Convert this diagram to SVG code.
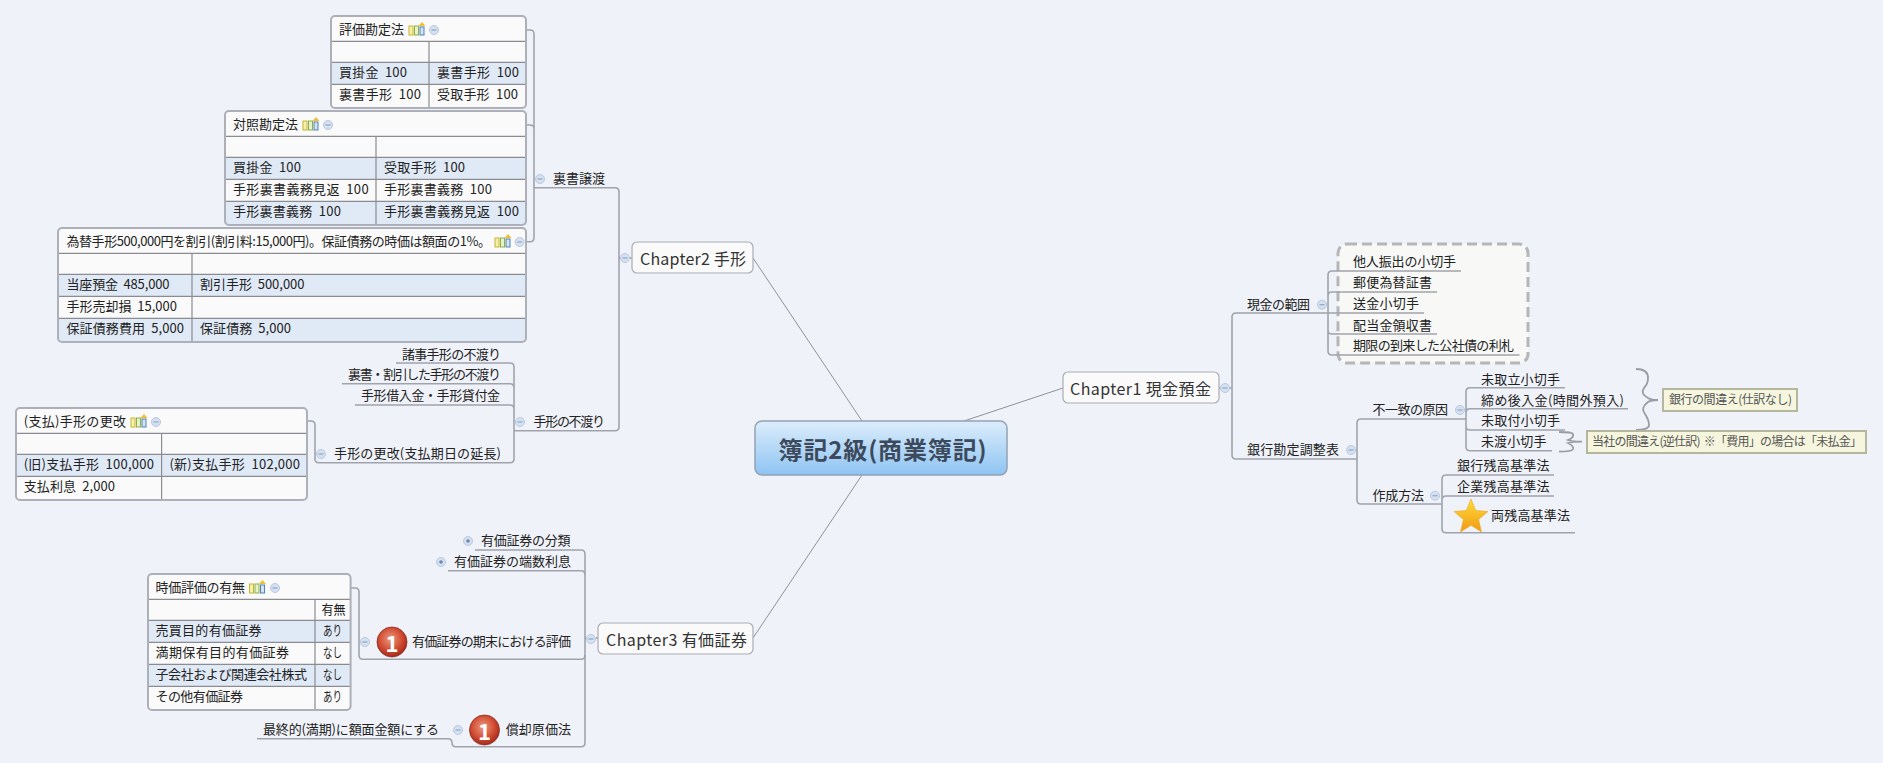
<svg xmlns="http://www.w3.org/2000/svg" width="1883" height="763" viewBox="0 0 1883 763">
<style>
text{font-family:"Noto Sans CJK JP","Noto Sans",sans-serif;font-size:13px;fill:#222;dominant-baseline:central;white-space:pre;transform:translateY(-1.5px)}
.c{font-size:16px;fill:#333}
.n{font-size:12px;fill:#555}
.r{font-size:24px;font-weight:bold;fill:#3d4a5c}
.cn{fill:none;stroke:#a0a3ac;stroke-width:1.6}
.thin{fill:none;stroke:#8f9299;stroke-width:1}
.box{fill:#fafafa;stroke:#a9acb4;stroke-width:1.2}
.tb{fill:#fafafa}
.bl{fill:#e0e9f6}
.ln{stroke:#8a8c92;stroke-width:1.2;fill:none}
.ol{fill:none;stroke:#adb0b8;stroke-width:2}
.call{fill:#f6f6df;stroke:#b4b79e;stroke-width:2}
.bad{stroke:#8d2a1c;stroke-width:.8;fill:url(#red)}
.one{font-size:22px;font-weight:bold;fill:#fff;text-anchor:middle;transform:none}
.tg{fill:#d5e0f0;stroke:#b9c9de;stroke-width:1}
.tm{stroke:#8ea7c6;stroke-width:1.2}
.td{fill:#6d89ad}
.brace{fill:none;stroke:#9a9ca3;stroke-width:1.8}
</style>
<defs>
<linearGradient id="cen" x1="0" y1="0" x2="0" y2="1"><stop offset="0" stop-color="#dcedfb"/><stop offset="1" stop-color="#8ec4f3"/></linearGradient>
<radialGradient id="red" cx=".45" cy=".4" r=".65"><stop offset="0" stop-color="#ee9a80"/><stop offset=".6" stop-color="#cf4a30"/><stop offset="1" stop-color="#9a2418"/></radialGradient>
<linearGradient id="st" x1="0" y1="0" x2="0" y2="1"><stop offset="0" stop-color="#ffdc3c"/><stop offset="1" stop-color="#f29a10"/></linearGradient>
<g id="ic"><rect x="0" y="-5" width="4" height="9" fill="#f6f0b0" stroke="#c6b42c"/><rect x="5.5" y="-5" width="4" height="9" fill="#e6f2c8" stroke="#8eb04a"/><rect x="11" y="-4" width="4" height="8" fill="#d4e4f6" stroke="#4f80b8"/><path d="M13 -9 l3.5 4 h-7z" fill="#f0c030"/></g>
<g id="m"><circle class="tg" r="4.5"/><path class="tm" d="M-2.5 0H2.5"/></g>
<g id="p"><circle class="tg" r="4.5"/><circle class="td" r="1.8"/></g>
</defs>
<rect width="1883" height="763" fill="#f0f2f9"/>
<g id="dash-box"><rect x="1338" y="244" width="190" height="119" rx="9" fill="#f8f9f7" stroke="#b5b6b8" stroke-width="3" stroke-dasharray="10 5"/></g>
<g id="connectors">
<path class="thin" d="M753 258L862 421M753 638L862 475M1063 388L964 421"/>
<path class="cn" d="M619 258H632M585 638H598M1219 388H1232"/>
<path class="cn" d="M534 187.7H615Q619 187.7 619 192V426.7Q619 430.7 615 430.7H514"/>
<path class="cn" d="M526 30H530Q534 30 534 34V237.7Q534 241.7 530 241.7H526M526 125H530Q534 125 534 129"/>
<path class="cn" d="M396 363H510Q514 363 514 367V458.7Q514 462.7 510 462.7H319Q315 462.7 315 458.7V425Q315 421 311 421H307M342 383.7H510Q514 383.7 514 388M355 405H510Q514 405 514 409"/>
<path class="cn" d="M475 550H581Q585 550 585 554V742.7Q585 746.7 581 746.7H456Q452 746.7 452 742.7Q452 738.7 448 738.7H257M448 570.7H581Q585 570.7 585 575"/>
<path class="cn" d="M351 588H355Q359 588 359 592V655Q359 659.3 363 659.3H581Q585 659.3 585 655"/>
<path class="cn" d="M1328 313H1236Q1232 313 1232 317V455Q1232 459 1236 459H1357"/>
<path class="cn" d="M1461 271H1332Q1328 271 1328 275V351Q1328 355 1332 355H1519.5M1437 292H1332Q1328 292 1328 296M1424 313H1328M1437 334H1332Q1328 334 1328 330"/>
<path class="cn" d="M1466 419H1361Q1357 419 1357 423V500Q1357 504 1361 504H1442"/>
<path class="cn" d="M1565 387.7H1470Q1466 387.7 1466 392V446.7Q1466 450.7 1470 450.7H1552M1628 408.7H1470Q1466 408.7 1466 413M1565 430H1470Q1466 430 1466 426"/>
<path class="cn" d="M1554 475H1446Q1442 475 1442 479V528.7Q1442 532.7 1446 532.7H1575M1554 496H1446Q1442 496 1442 500"/>
<path class="brace" d="M1636 369Q1648 369 1648 378Q1648 384 1644 388Q1640 394 1648 398Q1651 400 1658 400Q1651 400 1648 402Q1640 408 1645 414Q1649 420 1649 425Q1649 430 1636 430"/>
<path class="brace" d="M1559 432Q1572 432 1573 434Q1574 438 1568 440Q1572 441.7 1582 441.7Q1572 441.7 1568 443Q1574 446 1573 449Q1572 451.7 1559 451.7"/>
</g>
<g id="root"><rect x="755" y="421" width="252" height="54" rx="7" fill="url(#cen)" stroke="#93a3b4" stroke-width="1.5"/><text class="r" x="778.6" y="450" textLength="208">簿記2級(商業簿記)</text></g>
<g id="chapter1"><rect class="box" x="1063" y="372" width="156" height="31" rx="5"/><text class="c" x="1070" y="389" textLength="141">Chapter1 現金預金</text><use href="#m" x="1225" y="388"/></g>
<g id="chapter2"><rect class="box" x="632" y="242" width="121" height="31" rx="5"/><text class="c" x="640" y="259" textLength="106">Chapter2 手形</text><use href="#m" x="625" y="258"/></g>
<g id="chapter3"><rect class="box" x="598" y="623" width="155" height="31" rx="5"/><text class="c" x="606" y="640" textLength="141">Chapter3 有価証券</text><use href="#m" x="591" y="639"/></g>

<g id="table-hyoka">
<rect class="tb" x="331" y="16" width="195" height="92" rx="4"/><rect class="bl" x="331" y="62.3" width="195" height="22"/>
<path class="ln" d="M331 41.3H526M331 62.3H526M331 84.3H526M429 41.3V108"/><rect class="ol" x="331" y="16" width="195" height="92" rx="4"/>
<text x="339" y="30" textLength="65">評価勘定法</text><use href="#ic" x="409" y="31"/><use href="#m" x="434" y="30"/>
<text x="339" y="72.5" textLength="68">買掛金  100</text><text x="437" y="72.5" textLength="82">裏書手形  100</text>
<text x="339" y="94.5" textLength="82">裏書手形  100</text><text x="437" y="94.5" textLength="81">受取手形  100</text>
</g>
<g id="table-taisho">
<rect class="tb" x="225" y="111" width="301" height="114" rx="4"/><rect class="bl" x="225" y="157.3" width="301" height="22"/><rect class="bl" x="225" y="201.3" width="301" height="23.7"/>
<path class="ln" d="M225 136.3H526M225 157.3H526M225 179.3H526M225 201.3H526M376 136.3V225"/><rect class="ol" x="225" y="111" width="301" height="114" rx="4"/>
<text x="233" y="125" textLength="65">対照勘定法</text><use href="#ic" x="303" y="126"/><use href="#m" x="328" y="125"/>
<text x="233" y="167.5" textLength="68">買掛金  100</text><text x="384" y="167.5" textLength="81">受取手形  100</text>
<text x="233" y="189.5" textLength="135.6">手形裏書義務見返  100</text><text x="384" y="189.5" textLength="108">手形裏書義務  100</text>
<text x="233" y="211.5" textLength="108">手形裏書義務  100</text><text x="384" y="211.5" textLength="135">手形裏書義務見返  100</text>
</g>
<g id="table-waribiki">
<rect class="tb" x="58" y="228" width="468" height="114" rx="4"/><rect class="bl" x="58" y="274.3" width="468" height="22"/><rect class="bl" x="58" y="318.3" width="468" height="23.7"/>
<path class="ln" d="M58 253.3H526M58 274.3H526M58 296.3H526M58 318.3H526M192 253.3V342"/><rect class="ol" x="58" y="228" width="468" height="114" rx="4"/>
<text x="66.5" y="242" textLength="424.5">為替手形500,000円を割引(割引料:15,000円)。保証債務の時価は額面の1%。</text><use href="#ic" x="495" y="243"/><use href="#m" x="519.6" y="242"/>
<text x="66.5" y="284.5" textLength="103">当座預金  485,000</text><text x="200" y="284.5" textLength="104.5">割引手形  500,000</text>
<text x="66.5" y="306.5" textLength="110.5">手形売却損  15,000</text>
<text x="66.5" y="328.5" textLength="117.5">保証債務費用  5,000</text><text x="200" y="328.5" textLength="91">保証債務  5,000</text>
</g>
<g id="table-koukai">
<rect class="tb" x="16" y="408" width="291" height="92" rx="4"/><rect class="bl" x="16" y="454.3" width="291" height="22"/>
<path class="ln" d="M16 433.3H307M16 454.3H307M16 476.3H307M161.6 433.3V500"/><rect class="ol" x="16" y="408" width="291" height="92" rx="4"/>
<text x="23.7" y="422" textLength="102.3">(支払)手形の更改</text><use href="#ic" x="131" y="423"/><use href="#m" x="156" y="422"/>
<text x="23.7" y="464.5" textLength="130.3">(旧)支払手形  100,000</text><text x="169.4" y="464.5" textLength="130.6">(新)支払手形  102,000</text>
<text x="23.7" y="486.5" textLength="91.3">支払利息  2,000</text>
</g>
<g id="table-jika">
<rect class="tb" x="148" y="574" width="202.6" height="136" rx="4"/><rect class="bl" x="148" y="620.3" width="202.6" height="22"/><rect class="bl" x="148" y="664.3" width="202.6" height="22"/>
<path class="ln" d="M148 599.3H350.6M148 620.3H350.6M148 642.3H350.6M148 664.3H350.6M148 686.3H350.6M315 599.3V710"/><rect class="ol" x="148" y="574" width="202.6" height="136" rx="4"/>
<text x="155.5" y="588" textLength="89.5">時価評価の有無</text><use href="#ic" x="249.5" y="589"/><use href="#m" x="275" y="588"/>
<text x="321.6" y="610" textLength="24" lengthAdjust="spacingAndGlyphs">有無</text>
<text x="155.5" y="630.5" textLength="106">売買目的有価証券</text><text x="323" y="630.5" textLength="19" lengthAdjust="spacingAndGlyphs">あり</text>
<text x="155.5" y="652.5" textLength="133.5">満期保有目的有価証券</text><text x="323" y="652.5" textLength="19" lengthAdjust="spacingAndGlyphs">なし</text>
<text x="155.5" y="674.5" textLength="151.5">子会社および関連会社株式</text><text x="323" y="674.5" textLength="19" lengthAdjust="spacingAndGlyphs">なし</text>
<text x="155.5" y="696.5" textLength="87.5">その他有価証券</text><text x="323" y="696.5" textLength="19" lengthAdjust="spacingAndGlyphs">あり</text>
</g>

<g id="n-uragaki"><text x="553" y="179" textLength="52">裏書譲渡</text><use href="#m" x="540" y="179"/></g>
<g id="n-fuwatari"><text x="533.5" y="422" textLength="71.5">手形の不渡り</text><use href="#m" x="520" y="422"/></g>
<g id="n-shoji"><text x="402" y="355" textLength="99">諸事手形の不渡り</text></g>
<g id="n-uragaki-fuwatari"><text x="348" y="375" textLength="153">裏書・割引した手形の不渡り</text></g>
<g id="n-karikashi"><text x="361" y="396" textLength="139">手形借入金・手形貸付金</text></g>
<g id="n-koukai"><text x="334" y="454" textLength="167">手形の更改(支払期日の延長)</text><use href="#m" x="321" y="454"/></g>
<g id="n-bunrui"><text x="481" y="541" textLength="89.6">有価証券の分類</text><use href="#p" x="468" y="541"/></g>
<g id="n-hasu"><text x="454" y="562" textLength="117">有価証券の端数利息</text><use href="#p" x="441" y="562"/></g>
<g id="n-kimatsu"><use href="#m" x="365" y="642"/><ellipse class="bad" cx="392" cy="642" rx="15" ry="15"/><text class="one" x="392" y="642">1</text><text x="412" y="642" textLength="159">有価証券の期末における評価</text></g>
<g id="n-shokyaku"><use href="#m" x="458" y="730"/><ellipse class="bad" cx="484.5" cy="730" rx="15" ry="15"/><text class="one" x="484.5" y="730">1</text><text x="505.7" y="730" textLength="65.3">償却原価法</text></g>
<g id="n-saishu"><text x="263" y="730" textLength="176">最終的(満期)に額面金額にする</text></g>

<g id="n-genkin"><text x="1247" y="304.7" textLength="63">現金の範囲</text><use href="#m" x="1322" y="304.7"/></g>
<g id="n-c1"><text x="1353" y="262" textLength="103">他人振出の小切手</text></g>
<g id="n-c2"><text x="1353" y="283" textLength="79">郵便為替証書</text></g>
<g id="n-c3"><text x="1353" y="304" textLength="66">送金小切手</text></g>
<g id="n-c4"><text x="1353" y="325.5" textLength="79">配当金領収書</text></g>
<g id="n-c5"><text x="1353" y="346" textLength="161">期限の到来した公社債の利札</text></g>
<g id="n-ginko"><text x="1247" y="450" textLength="92">銀行勘定調整表</text><use href="#m" x="1351" y="450"/></g>
<g id="n-fuitchi"><text x="1372.5" y="410" textLength="75.5">不一致の原因</text><use href="#m" x="1460" y="410"/></g>
<g id="n-b1"><text x="1481" y="379.7" textLength="79">未取立小切手</text></g>
<g id="n-b2"><text x="1481" y="400.7" textLength="143">締め後入金(時間外預入)</text></g>
<g id="n-b3"><text x="1481" y="421" textLength="79">未取付小切手</text></g>
<g id="n-b4"><text x="1481" y="442" textLength="65.5">未渡小切手</text></g>
<g id="n-sakusei"><text x="1372.5" y="495.7" textLength="51.5">作成方法</text><use href="#m" x="1435" y="495.7"/></g>
<g id="n-m1"><text x="1457" y="466" textLength="92.5">銀行残高基準法</text></g>
<g id="n-m2"><text x="1457" y="487" textLength="92.5">企業残高基準法</text></g>
<g id="n-m3"><polygon points="1471,499 1475.7,510.5 1488,511.5 1478.6,519.5 1481.5,532 1471,525.3 1460.5,532 1463.4,519.5 1454,511.5 1466.3,510.5" fill="url(#st)" stroke="#e8a820" stroke-width=".6"/><text x="1491" y="516" textLength="79">両残高基準法</text></g>
<g id="note-bank"><rect class="call" x="1663" y="389" width="134" height="22"/><text class="n" x="1669" y="400" textLength="123">銀行の間違え(仕訳なし)</text></g>
<g id="note-own"><rect class="call" x="1587" y="431" width="279" height="22"/><text class="n" x="1592" y="442" textLength="270">当社の間違え(逆仕訳)  ※「費用」の場合は「未払金」</text></g>
</svg>
